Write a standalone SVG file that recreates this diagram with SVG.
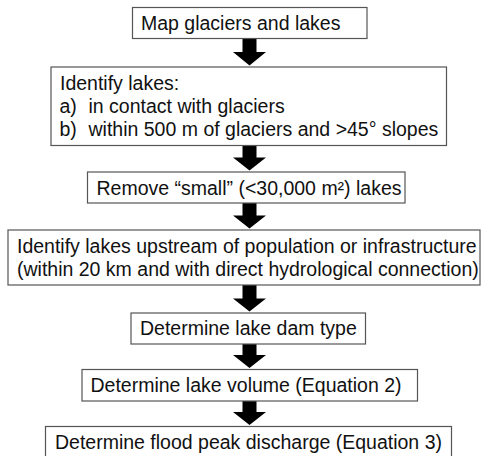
<svg xmlns="http://www.w3.org/2000/svg" width="486" height="456" viewBox="0 0 486 456">
<style>
.box{fill:#fff;stroke:#555;stroke-width:1.2}
.t{font-family:"Liberation Sans",Arial,sans-serif;font-size:19.5px;fill:#111}
.arr{fill:#000}
</style>
<rect width="486" height="456" fill="#fff"/>
<g id="connectors">
<polygon class="arr" points="242.5,38.5 256.5,38.5 256.5,52 266,52 249.5,65.5 233,52 242.5,52"/>
<polygon class="arr" points="242.5,145.5 256.5,145.5 256.5,157.5 266,157.5 249.5,170.5 233,157.5 242.5,157.5"/>
<polygon class="arr" points="242.5,203 256.5,203 256.5,215.5 266,215.5 249.5,228.5 233,215.5 242.5,215.5"/>
<polygon class="arr" points="242.5,285 256.5,285 256.5,298.5 266,298.5 249.5,311.5 233,298.5 242.5,298.5"/>
<polygon class="arr" points="242.5,344 256.5,344 256.5,355 266,355 249.5,368 233,355 242.5,355"/>
<polygon class="arr" points="242.5,401 256.5,401 256.5,412 266,412 249.5,425 233,412 242.5,412"/>
</g>
<g id="n1">
<rect class="box" x="132.5" y="7.5" width="234.5" height="31"/>
<text class="t" x="141" y="30">Map glaciers and lakes</text>
</g>
<g id="n2">
<rect class="box" x="51" y="67" width="395.5" height="78.5"/>
<text class="t" x="60" y="90">Identify lakes:</text>
<text class="t" x="59.5" y="113">a)</text>
<text class="t" x="88.5" y="113">in contact with glaciers</text>
<text class="t" x="59.5" y="136">b)</text>
<text class="t" x="88.5" y="136">within 500 m of glaciers and &gt;45° slopes</text>
</g>
<g id="n3">
<rect class="box" x="87.5" y="172" width="317.5" height="31"/>
<text class="t" x="96.5" y="194.5">Remove “small” (&lt;30,000 m²) lakes</text>
</g>
<g id="n4">
<rect class="box" x="8" y="230" width="472" height="55"/>
<text class="t" x="17" y="253">Identify lakes upstream of population or infrastructure</text>
<text class="t" x="17" y="276">(within 20 km and with direct hydrological connection)</text>
</g>
<g id="n5">
<rect class="box" x="131" y="313" width="234.5" height="31"/>
<text class="t" x="140" y="335">Determine lake dam type</text>
</g>
<g id="n6">
<rect class="box" x="82" y="369.5" width="335.5" height="31.5"/>
<text class="t" x="90.5" y="392">Determine lake volume (Equation 2)</text>
</g>
<g id="n7">
<rect class="box" x="45.5" y="426.5" width="406" height="32"/>
<text class="t" x="55" y="448.5">Determine flood peak discharge (Equation 3)</text>
</g>
</svg>
